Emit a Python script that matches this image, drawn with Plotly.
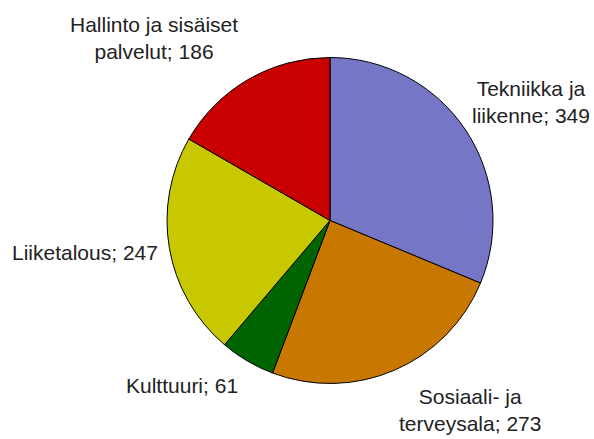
import plotly.graph_objects as go

categories = ["Tekniikka ja liikenne", "Sosiaali- ja terveysala", "Kulttuuri",
              "Liiketalous", "Hallinto ja sisäiset palvelut"]
values = [349, 273, 61, 247, 186]
label_lines = [["Tekniikka ja", "liikenne"], ["Sosiaali- ja", "terveysala"], ["Kulttuuri"],
               ["Liiketalous"], ["Hallinto ja sisäiset", "palvelut"]]
colors = ["#7676c6", "#c87800", "#006400", "#c8c800", "#c80000"]

W, H = 594, 439
cx, cy, r = 330, 220.5, 163

fig = go.Figure(go.Pie(
    labels=categories, values=values, sort=False, direction="clockwise", rotation=0,
    marker=dict(colors=colors, line=dict(color="#000000", width=1)),
    textinfo="none", hoverinfo="label+value", showlegend=False,
    domain=dict(x=[(cx - r) / W, (cx + r) / W], y=[1 - (cy + r) / H, 1 - (cy - r) / H]),
))

# label centres in pixels (x, y from top)
label_pos = [(531, 102), (470, 410), (182, 385), (85, 252), (154, 38)]
for lines, v, (px, py) in zip(label_lines, values, label_pos):
    txt = "<br>".join(lines[:-1] + [f"{lines[-1]}; {v}"])
    fig.add_annotation(x=px / W, y=1 - py / H, xref="paper", yref="paper", text=txt,
                       showarrow=False, xanchor="center", yanchor="middle",
                       font=dict(family="Arial, Liberation Sans, sans-serif", size=21, color="#222222"))

fig.update_layout(width=W, height=H, margin=dict(l=0, r=0, t=0, b=0),
                  paper_bgcolor="white", plot_bgcolor="white")
fig.write_html("out.html")
